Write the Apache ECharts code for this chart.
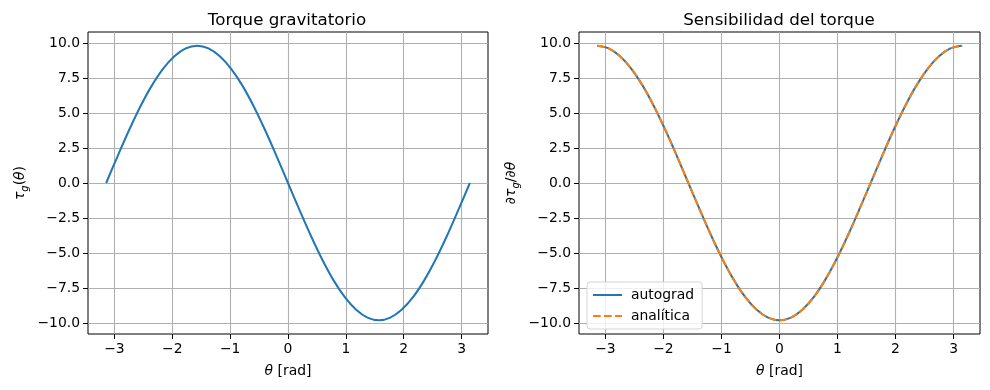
<!DOCTYPE html>
<html><head><meta charset="utf-8">
<script src="https://cdn.jsdelivr.net/npm/echarts@6/dist/echarts.min.js"></script>
<style>html,body{margin:0;padding:0;background:#fff}#c{width:990px;height:390px}</style>
</head><body><div id="c"></div>
<script>
// theta samples (rad)
const theta = [-3.142,-2.945,-2.749,-2.553,-2.356,-2.160,-1.963,-1.767,-1.571,-1.374,-1.178,-0.982,-0.785,-0.589,-0.393,-0.196,0,
  0.196,0.393,0.589,0.785,0.982,1.178,1.374,1.571,1.767,1.963,2.160,2.356,2.553,2.749,2.945,3.142];
// gravitational torque tau_g(theta)
const torque = [0,1.91,3.75,5.45,6.94,8.16,9.06,9.62,9.81,9.62,9.06,8.16,6.94,5.45,3.75,1.91,0,
  -1.91,-3.75,-5.45,-6.94,-8.16,-9.06,-9.62,-9.81,-9.62,-9.06,-8.16,-6.94,-5.45,-3.75,-1.91,0];
// sensitivity d tau / d theta
const autograd = [9.81,9.62,9.06,8.16,6.94,5.45,3.75,1.91,0,-1.91,-3.75,-5.45,-6.94,-8.16,-9.06,-9.62,-9.81,
  -9.62,-9.06,-8.16,-6.94,-5.45,-3.75,-1.91,0,1.91,3.75,5.45,6.94,8.16,9.06,9.62,9.81];
const analitica = [9.81,9.62,9.06,8.16,6.94,5.45,3.75,1.91,0,-1.91,-3.75,-5.45,-6.94,-8.16,-9.06,-9.62,-9.81,
  -9.62,-9.06,-8.16,-6.94,-5.45,-3.75,-1.91,0,1.91,3.75,5.45,6.94,8.16,9.06,9.62,9.81];
const xTicks = [-3,-2,-1,0,1,2,3];
const yTicks = [-10,-7.5,-5,-2.5,0,2.5,5,7.5,10];
const titles = ['Torque gravitatorio','Sensibilidad del torque'];

const FONT = 'DejaVu Sans';
const fmtY = v => (v < 0 ? '\u2212' : '') + Math.abs(v).toFixed(1);
const fmtX = v => (v < 0 ? '\u2212' : '') + Math.abs(v);
const zip = (xs, ys) => xs.map((x, i) => [x, ys[i]]);

function xAxis(i) {
  return {
    type: 'value', gridIndex: i, min: -3.4558, max: 3.4558,
    axisLine: {show: false, onZero: false},
    axisTick: {show: true, length: 5, lineStyle: {color: '#000', width: 1}, customValues: xTicks},
    axisLabel: {customValues: xTicks, formatter: fmtX, color: '#000', fontFamily: FONT, fontSize: 13.9, margin: 8},
    splitLine: {show: true, lineStyle: {color: '#b0b0b0', width: 1.1}},
    name: '{i|θ} [rad]', nameLocation: 'middle', nameGap: 30,
    nameTextStyle: {color: '#000', fontFamily: FONT, fontSize: 13.9,
      rich: {i: {fontStyle: 'italic', fontFamily: FONT, fontSize: 13.9, color: '#000'}}}
  };
}
function yAxis(i, name) {
  return {
    type: 'value', gridIndex: i, min: -10.791, max: 10.791,
    axisLine: {show: false, onZero: false},
    axisTick: {show: true, length: 5, lineStyle: {color: '#000', width: 1}, customValues: yTicks},
    axisLabel: {customValues: yTicks, formatter: fmtY, color: '#000', fontFamily: FONT, fontSize: 13.9, margin: 8},
    splitLine: {show: true, lineStyle: {color: '#b0b0b0', width: 1.1}},
    name: name, nameLocation: 'middle', nameGap: 58,
    nameTextStyle: {color: '#000', fontFamily: FONT, fontSize: 13.9,
      rich: {
        a: {fontFamily: FONT, fontSize: 13.9, color: '#000', fontStyle: 'italic', verticalAlign: 'top', lineHeight: 16},
        n: {fontFamily: FONT, fontSize: 13.9, color: '#000', verticalAlign: 'top', lineHeight: 16},
        s: {fontFamily: FONT, fontSize: 10, color: '#000', fontStyle: 'italic', verticalAlign: 'bottom', lineHeight: 17}
      }}
  };
}

const chart = echarts.init(document.getElementById('c'), null, {renderer: 'canvas'});
chart.setOption({
  animation: false,
  backgroundColor: '#fff',
  title: [
    {text: titles[0], left: 282, top: 7, textAlign: 'center',
      textStyle: {fontFamily: FONT, fontSize: 16.7, fontWeight: 'normal', color: '#000'}},
    {text: titles[1], left: 774, top: 7, textAlign: 'center',
      textStyle: {fontFamily: FONT, fontSize: 16.7, fontWeight: 'normal', color: '#000'}}
  ],
  grid: [
    {left: 88, top: 32, width: 400, height: 302, show: true, borderColor: '#000', borderWidth: 1, backgroundColor: 'transparent'},
    {left: 579, top: 32, width: 401, height: 302, show: true, borderColor: '#000', borderWidth: 1, backgroundColor: 'transparent'}
  ],
  xAxis: [xAxis(0), xAxis(1)],
  yAxis: [
    yAxis(0, '{a|τ}{s|g}{n|(}{a|θ}{n|)}'),
    yAxis(1, '{n|∂}{a|τ}{s|g}{n|/∂}{a|θ}')
  ],
  legend: {
    orient: 'vertical', left: 587, top: 282,
    padding: [6, 8, 6, 5], itemGap: 7, itemWidth: 29, itemHeight: 10,
    borderColor: '#d5d5d5', borderWidth: 1, borderRadius: 3,
    backgroundColor: 'rgba(255,255,255,0.8)',
    itemStyle: {opacity: 0},
    textStyle: {fontFamily: FONT, fontSize: 13.9, color: '#000', padding: [0, 0, 0, 4]},
    data: ['autograd', 'analítica']
  },
  series: [
    {type: 'line', xAxisIndex: 0, yAxisIndex: 0, data: zip(theta, torque), smooth: 0.35,
      symbol: 'none', lineStyle: {color: '#1f77b4', width: 2}, itemStyle: {color: '#1f77b4'}},
    {name: 'autograd', type: 'line', xAxisIndex: 1, yAxisIndex: 1, data: zip(theta, autograd), smooth: 0.35,
      symbol: 'none', lineStyle: {color: '#1f77b4', width: 2}, itemStyle: {color: '#1f77b4'}},
    {name: 'analítica', type: 'line', xAxisIndex: 1, yAxisIndex: 1, data: zip(theta, analitica), smooth: 0.35,
      symbol: 'none', lineStyle: {color: '#ff7f0e', width: 2, type: [7.7, 3.3]}, itemStyle: {color: '#ff7f0e'}}
  ]
});
</script></body></html>
